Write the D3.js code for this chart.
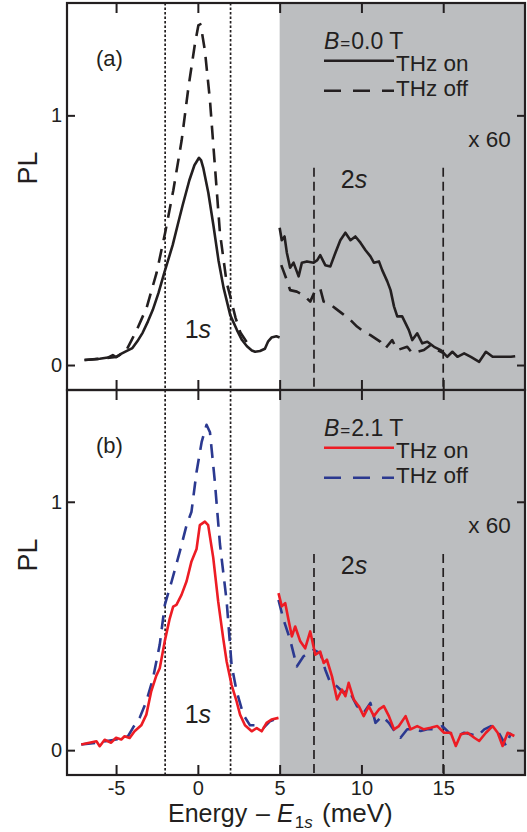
<!DOCTYPE html>
<html>
<head>
<meta charset="utf-8">
<script src="https://cdn.jsdelivr.net/npm/d3@7"></script>
<style>
  body { margin: 0; background: #fff; }
  svg { display: block; font-family: "Liberation Sans", Arial, sans-serif; }
</style>
</head>
<body>
<svg id="chart"></svg>
<script>
// axis setup
const xDomain = [-8, 20];
const yDomain = [-0.1, 1.45];
const xTicks = [-5, 0, 5, 10, 15];
const yTicks = [0, 1];
const lines1s = [-2, 2];      // dotted
const lines2s = [7.1, 15];    // dashed
const top2s = 0.79;
const shadeFrom = 5;

// panel (a), B = 0.0 T  -- [energy, PL]; the "High" parts are shown x60
const aOnLow = [[-6.93,0.02],[-6.5,0.022],[-6.0,0.025],[-5.5,0.03],[-5.2,0.04],[-5.0,0.032],[-4.7,0.045],[-4.4,0.055],[-4.0,0.068],[-3.7,0.095],[-3.37,0.13],[-3.05,0.175],[-2.76,0.22],[-2.4,0.29],[-2.05,0.37],[-1.54,0.48],[-1.2,0.57],[-0.93,0.64],[-0.52,0.74],[-0.21,0.80],[0.07,0.83],[0.2,0.82],[0.33,0.79],[0.64,0.69],[0.95,0.56],[1.26,0.42],[1.57,0.31],[1.98,0.2],[2.39,0.14],[2.7,0.10],[3.0,0.075],[3.3,0.058],[3.5,0.053],[3.8,0.056],[4.1,0.065],[4.3,0.095],[4.5,0.11],[4.8,0.115],[5.0,0.11]];
const aOffLow = [[-6.93,0.02],[-6.0,0.025],[-5.0,0.032],[-4.4,0.055],[-4.05,0.10],[-3.74,0.14],[-3.13,0.23],[-2.52,0.37],[-2.0,0.53],[-1.5,0.70],[-0.99,0.90],[-0.58,1.11],[-0.17,1.29],[0.03,1.36],[0.15,1.365],[0.23,1.34],[0.43,1.26],[0.74,1.06],[1.05,0.79],[1.35,0.53],[1.76,0.33],[2.0,0.27],[2.3,0.19],[2.6,0.13],[3.0,0.09],[3.4,0.075]];
const aOnHigh = [[5.0,0.55],[5.13,0.50],[5.3,0.515],[5.44,0.45],[5.64,0.39],[5.85,0.41],[6.16,0.355],[6.36,0.41],[6.67,0.415],[7.08,0.41],[7.3,0.42],[7.48,0.44],[7.79,0.40],[8.1,0.395],[8.41,0.45],[8.71,0.50],[9.02,0.53],[9.33,0.50],[9.63,0.515],[9.94,0.49],[10.25,0.46],[10.55,0.435],[10.76,0.41],[11.07,0.415],[11.27,0.38],[11.58,0.335],[11.78,0.30],[11.99,0.235],[12.19,0.195],[12.49,0.195],[12.7,0.167],[12.9,0.14],[13.11,0.10],[13.41,0.127],[13.72,0.087],[14.03,0.093],[14.44,0.073],[14.85,0.06],[15.25,0.033],[15.56,0.053],[15.87,0.033],[16.28,0.047],[16.69,0.033],[17.2,0.013],[17.61,0.053],[18.02,0.033],[18.53,0.033],[19.14,0.033],[19.4,0.035]];
const aOffHigh = [[5.1,0.40],[5.44,0.34],[5.64,0.30],[6.05,0.294],[6.46,0.28],[6.87,0.254],[7.18,0.30],[7.48,0.307],[7.69,0.254],[8.0,0.247],[8.41,0.227],[8.81,0.207],[9.33,0.18],[9.73,0.154],[10.14,0.134],[10.55,0.12],[11.17,0.093],[11.47,0.067],[11.88,0.10],[12.19,0.06],[12.8,0.073],[13.11,0.047],[13.82,0.06],[14.23,0.08],[14.64,0.06],[15.05,0.047]];

// panel (b), B = 2.1 T
const bOnLow = [[-7.13,0.023],[-6.63,0.03],[-6.2,0.036],[-6.0,0.016],[-5.7,0.042],[-5.3,0.03],[-5.0,0.05],[-4.68,0.043],[-4.48,0.056],[-4.17,0.049],[-3.87,0.076],[-3.46,0.10],[-3.15,0.143],[-2.85,0.237],[-2.54,0.30],[-2.33,0.33],[-2.02,0.44],[-1.72,0.53],[-1.51,0.578],[-1.31,0.585],[-1.0,0.625],[-0.69,0.68],[-0.39,0.76],[-0.08,0.81],[0.12,0.906],[0.43,0.92],[0.63,0.906],[0.94,0.775],[1.24,0.60],[1.55,0.45],[1.76,0.357],[2.06,0.263],[2.37,0.196],[2.58,0.143],[2.88,0.10],[3.29,0.076],[3.6,0.089],[3.9,0.076],[4.2,0.11],[4.5,0.123],[4.93,0.13]];
const bOffLow = [[-7.13,0.023],[-6.2,0.03],[-5.0,0.043],[-4.27,0.056],[-3.97,0.09],[-3.56,0.13],[-3.15,0.196],[-2.74,0.29],[-2.33,0.425],[-2.02,0.585],[-1.6,0.68],[-1.1,0.80],[-0.69,0.906],[-0.39,0.96],[-0.08,1.12],[0.23,1.24],[0.53,1.31],[0.74,1.28],[1.04,1.08],[1.35,0.83],[1.76,0.60],[2.06,0.344],[2.37,0.237],[2.78,0.143],[3.19,0.10],[3.6,0.10],[4.0,0.089],[4.4,0.116],[4.93,0.13]];
const bOnHigh = [[4.93,0.632],[5.13,0.579],[5.34,0.592],[5.54,0.525],[5.75,0.458],[5.95,0.498],[6.26,0.438],[6.56,0.41],[6.87,0.478],[7.18,0.384],[7.48,0.397],[7.69,0.351],[7.89,0.364],[8.2,0.297],[8.51,0.204],[8.81,0.244],[9.02,0.217],[9.22,0.271],[9.53,0.204],[9.84,0.177],[10.14,0.137],[10.45,0.177],[10.76,0.137],[11.07,0.164],[11.37,0.177],[11.68,0.137],[11.99,0.084],[12.29,0.097],[12.7,0.137],[13.0,0.084],[13.41,0.097],[13.82,0.084],[14.23,0.09],[14.64,0.097],[15.05,0.07],[15.46,0.07],[15.77,0.017],[16.08,0.064],[16.49,0.07],[16.9,0.05],[17.2,0.037],[17.61,0.07],[18.02,0.097],[18.33,0.07],[18.63,0.017],[18.94,0.07],[19.35,0.057]];
const bOffHigh = [[4.93,0.605],[5.24,0.525],[5.64,0.445],[6.05,0.337],[6.46,0.378],[6.77,0.391],[7.08,0.404],[7.48,0.391],[7.79,0.324],[8.1,0.271],[8.51,0.257],[8.91,0.231],[9.22,0.244],[9.73,0.177],[10.14,0.15],[10.55,0.19],[10.86,0.11],[11.27,0.137],[11.68,0.11],[12.09,0.07],[12.39,0.05],[12.8,0.084],[13.21,0.084],[13.62,0.077],[14.03,0.084],[14.54,0.084],[14.95,0.097],[15.36,0.07],[15.87,0.057],[16.28,0.07],[16.69,0.064],[17.1,0.057],[17.51,0.084],[17.92,0.097],[18.33,0.077],[18.84,0.017],[19.14,0.07]];

const panels = [
  { tag: '(a)', field: '0.0', top: 3, bottom: 390, onColor: '#231f20', offColor: '#231f20',
    on: [aOnLow, aOnHigh], off: [aOffLow, aOffHigh] },
  { tag: '(b)', field: '2.1', top: 390, bottom: 775, onColor: '#ed1c24', offColor: '#2b3990',
    on: [bOnLow, bOnHigh], off: [bOffLow, bOffHigh] }
];

const W = 527, H = 832;
const left = 67, right = 525;
const ink = '#231f20';

const svg = d3.select('#chart').attr('width', W).attr('height', H);

const x = d3.scaleLinear().domain(xDomain).range([left, right]);

panels.forEach((p, i) => {
  const y = d3.scaleLinear().domain(yDomain).range([p.bottom, p.top]);
  const g = svg.append('g');
  const path = d3.line().x(d => x(d[0])).y(d => y(d[1]));

  // shaded x60 area
  g.append('rect')
    .attr('x', x(shadeFrom)).attr('y', p.top)
    .attr('width', right - x(shadeFrom)).attr('height', p.bottom - p.top)
    .attr('fill', '#bcbec0');

  g.selectAll('.dot1s').data(lines1s).join('line')
    .attr('x1', d => x(d)).attr('x2', d => x(d))
    .attr('y1', p.top).attr('y2', p.bottom)
    .attr('stroke', ink).attr('stroke-width', 1.7).attr('stroke-dasharray', '2.5,2');

  g.selectAll('.dash2s').data(lines2s).join('line')
    .attr('x1', d => x(d)).attr('x2', d => x(d))
    .attr('y1', y(top2s)).attr('y2', p.bottom)
    .attr('stroke', ink).attr('stroke-width', 1.7).attr('stroke-dasharray', '9,5');

  // curves
  p.off.forEach(s => g.append('path').attr('d', path(s))
    .attr('fill', 'none').attr('stroke', p.offColor).attr('stroke-width', 2.6)
    .attr('stroke-dasharray', '14,9').attr('stroke-linejoin', 'round'));
  p.on.forEach(s => g.append('path').attr('d', path(s))
    .attr('fill', 'none').attr('stroke', p.onColor).attr('stroke-width', 2.6)
    .attr('stroke-linejoin', 'round'));

  // axes, ticks inward
  const fmt = d => String(d);
  g.append('g').attr('transform', `translate(0,${p.bottom})`)
    .call(d3.axisBottom(x).tickValues(xTicks).tickSize(-10).tickPadding(6)
      .tickFormat(i === 1 ? fmt : () => ''));
  g.append('g').attr('transform', `translate(0,${p.top})`)
    .call(d3.axisTop(x).tickValues(xTicks).tickSize(-10).tickFormat(() => ''));
  g.append('g').attr('transform', `translate(${left},0)`)
    .call(d3.axisLeft(y).tickValues(yTicks).tickSize(-8).tickPadding(5).tickFormat(fmt));
  g.append('g').attr('transform', `translate(${right},0)`)
    .call(d3.axisRight(y).tickValues(yTicks).tickSize(-8).tickFormat(() => ''));
  g.selectAll('.domain').remove();
  g.selectAll('.tick line').attr('stroke', ink).attr('stroke-width', 2);
  g.selectAll('.tick text').attr('fill', ink).attr('font-size', 20)
    .attr('font-family', '"Liberation Sans", Arial, sans-serif');

  g.append('rect')
    .attr('x', left).attr('y', p.top).attr('width', right - left).attr('height', p.bottom - p.top)
    .attr('fill', 'none').attr('stroke', ink).attr('stroke-width', 2.2);

  // texts
  g.append('text').attr('x', 96).attr('y', p.top + 63)
    .attr('font-size', 22).attr('fill', ink).text(p.tag);

  g.append('text').attr('transform', `translate(37,${p.top + 165}) rotate(-90)`)
    .attr('text-anchor', 'middle').attr('font-size', 27).attr('fill', ink).text('PL');

  const lab1 = g.append('text').attr('x', x(0)).attr('y', y(0.11))
    .attr('text-anchor', 'middle').attr('font-size', 25).attr('fill', ink);
  lab1.append('tspan').text('1');
  lab1.append('tspan').attr('font-style', 'italic').text('s');

  const lab2 = g.append('text').attr('x', x(9.55)).attr('y', y(0.71))
    .attr('text-anchor', 'middle').attr('font-size', 25).attr('fill', ink);
  lab2.append('tspan').text('2');
  lab2.append('tspan').attr('font-style', 'italic').text('s');

  g.append('text').attr('x', x(19.13)).attr('y', y(0.873))
    .attr('text-anchor', 'end').attr('font-size', 22.5).attr('fill', ink).text('x 60');

  // legend
  const lx = 324, ly = p.top;
  const bt = g.append('text').attr('x', lx).attr('y', ly + 46)
    .attr('font-size', 23).attr('fill', ink);
  bt.append('tspan').attr('font-style', 'italic').text('B');
  bt.append('tspan').attr('font-size', 17).attr('dx', 1).text('=');
  bt.append('tspan').attr('dx', 1).text(p.field + ' T');

  g.append('line').attr('x1', lx).attr('x2', lx + 70)
    .attr('y1', ly + 57.7).attr('y2', ly + 57.7)
    .attr('stroke', p.onColor).attr('stroke-width', 2.6);
  g.append('text').attr('x', lx + 72).attr('y', ly + 68)
    .attr('font-size', 22.5).attr('fill', ink).text('THz on');

  g.append('line').attr('x1', lx).attr('x2', lx + 70)
    .attr('y1', ly + 87.7).attr('y2', ly + 87.7)
    .attr('stroke', p.offColor).attr('stroke-width', 2.6).attr('stroke-dasharray', '17,12');
  g.append('text').attr('x', lx + 72).attr('y', ly + 92.5)
    .attr('font-size', 22.5).attr('fill', ink).text('THz off');
});

// x axis title
const xt = svg.append('text').attr('y', 822).attr('font-size', 25).attr('fill', ink);
xt.append('tspan').attr('x', 168).text('Energy');
xt.append('tspan').attr('x', 256).text('–');
xt.append('tspan').attr('x', 277).attr('font-style', 'italic').text('E');
xt.append('tspan').attr('font-size', 17).attr('dy', 6).attr('dx', 1).text('1');
xt.append('tspan').attr('font-size', 17).attr('font-style', 'italic').text('s');
xt.append('tspan').attr('x', 322).attr('dy', -6).attr('font-size', 26).text('(meV)');
</script>
</body>
</html>
